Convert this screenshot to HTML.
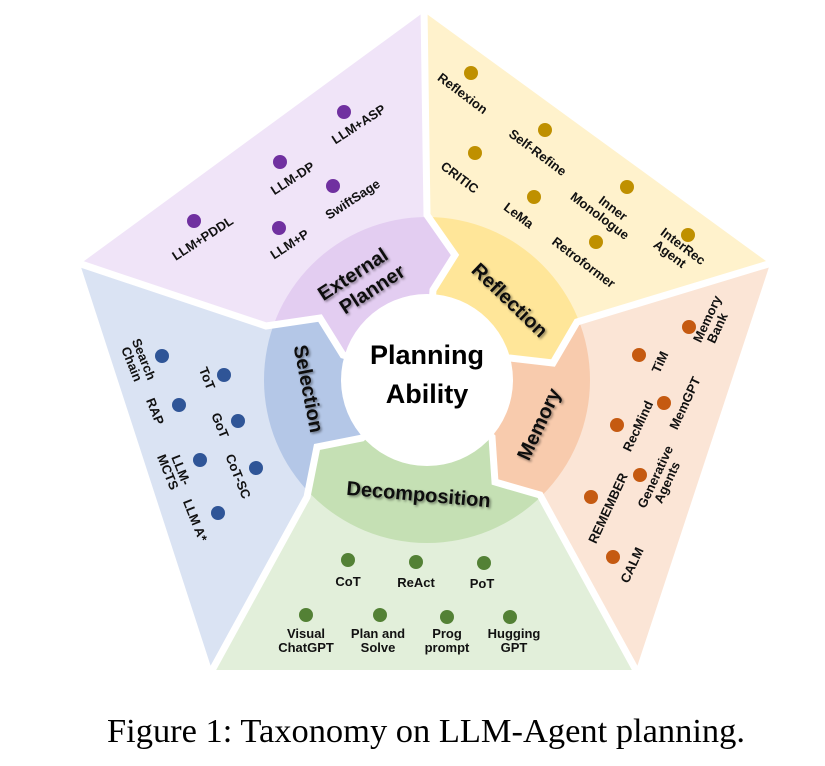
<!DOCTYPE html>
<html><head><meta charset="utf-8"><style>
html,body{margin:0;padding:0;background:#fff;}
svg text{font-family:"Liberation Sans",sans-serif;font-weight:bold;}
.s{font-size:13px;fill:#111;}
.r{font-size:20px;fill:#111;}
</style></head><body>
<svg width="825" height="761" viewBox="0 0 825 761" xmlns="http://www.w3.org/2000/svg">
<defs>
<clipPath id="ring"><circle cx="427" cy="380" r="163"/></clipPath>
<filter id="sh" x="-20%" y="-20%" width="140%" height="140%"><feDropShadow dx="1.5" dy="1.5" stdDeviation="1.2" flood-color="#000" flood-opacity="0.45"/></filter>
</defs>
<polygon fill="#f0e4f8" points="427,380 433,290 455,255 427,215 424,12 80,264 266,326 320,318 343,355"/>
<polygon fill="#fff2cc" points="427,380 433,290 455,255 427,215 424,12 770,264 577,322 553,363 510,358"/>
<polygon fill="#fbe5d6" points="427,380 510,358 553,363 577,322 770,264 636,670 540,495 495,482 492,437"/>
<polygon fill="#e2efda" points="427,380 492,437 495,482 540,495 636,670 212,670 307,497 317,447 362,438"/>
<polygon fill="#dae3f3" points="427,380 362,438 317,447 307,497 212,670 80,264 266,326 320,318 343,355"/>
<g clip-path="url(#ring)">
<polygon fill="#e3cdf1" points="427,380 433,290 455,255 427,215 424,12 80,264 266,326 320,318 343,355"/>
<polygon fill="#ffe699" points="427,380 433,290 455,255 427,215 424,12 770,264 577,322 553,363 510,358"/>
<polygon fill="#f8cbad" points="427,380 510,358 553,363 577,322 770,264 636,670 540,495 495,482 492,437"/>
<polygon fill="#c5e0b4" points="427,380 492,437 495,482 540,495 636,670 212,670 307,497 317,447 362,438"/>
<polygon fill="#b4c7e7" points="427,380 362,438 317,447 307,497 212,670 80,264 266,326 320,318 343,355"/>
</g>
<g fill="none" stroke="#fff" stroke-width="7" stroke-linejoin="miter">
<polyline points="427,380 433,290 455,255 427,215 424,8"/>
<polyline points="427,380 510,358 553,363 577,322 775,262"/>
<polyline points="427,380 492,437 495,482 540,495 638,674"/>
<polyline points="427,380 362,438 317,447 307,497 210,674"/>
<polyline points="427,380 343,355 320,318 266,326 75,262"/>
</g>
<circle cx="427" cy="380" r="86" fill="#fff"/>
<text x="427" y="364" text-anchor="middle" font-size="27" fill="#000">Planning</text>
<text x="427" y="403" text-anchor="middle" font-size="27" fill="#000">Ability</text>

<g filter="url(#sh)">
<text class="r" transform="translate(362,281) rotate(-33)" text-anchor="middle"><tspan x="-4" y="-4">External</tspan><tspan x="4" y="19">Planner</tspan></text>
<text class="r" transform="translate(505,305) rotate(44)" text-anchor="middle">Reflection</text>
<text class="r" transform="translate(545,427) rotate(-65)" text-anchor="middle">Memory</text>
<text class="r" transform="translate(302,390) rotate(79)" text-anchor="middle">Selection</text>
<text class="r" transform="translate(418,501) rotate(5)" text-anchor="middle">Decomposition</text>
</g>

<g fill="#7030a0">
<circle cx="344" cy="112" r="7"/><circle cx="280" cy="162" r="7"/><circle cx="333" cy="186" r="7"/><circle cx="279" cy="228" r="7"/><circle cx="194" cy="221" r="7"/>
</g>
<g text-anchor="middle">
<text class="s" transform="translate(361,128) rotate(-33)">LLM+ASP</text>
<text class="s" transform="translate(295,182) rotate(-33)">LLM-DP</text>
<text class="s" transform="translate(355,203) rotate(-33)">SwiftSage</text>
<text class="s" transform="translate(292,248) rotate(-33)">LLM+P</text>
<text class="s" transform="translate(205,242) rotate(-33)">LLM+PDDL</text>
</g>
<g fill="#bf9000">
<circle cx="471" cy="73" r="7"/><circle cx="545" cy="130" r="7"/><circle cx="475" cy="153" r="7"/><circle cx="534" cy="197" r="7"/><circle cx="627" cy="187" r="7"/><circle cx="596" cy="242" r="7"/><circle cx="688" cy="235" r="7"/>
</g>
<g text-anchor="middle">
<text class="s" transform="translate(460,97) rotate(37)">Reflexion</text>
<text class="s" transform="translate(535,156) rotate(37)">Self-Refine</text>
<text class="s" transform="translate(457,181) rotate(37)">CRITIC</text>
<text class="s" transform="translate(516,219) rotate(37)">LeMa</text>
<text class="s" transform="translate(602,213) rotate(37)"><tspan x="6" y="-6">Inner</tspan><tspan x="0" y="8">Monologue</tspan></text>
<text class="s" transform="translate(581,266) rotate(37)">Retroformer</text>
<text class="s" transform="translate(672,251) rotate(37)"><tspan x="6" y="-6">InterRec</tspan><tspan x="0" y="8">Agent</tspan></text>
</g>
<g fill="#c55a11">
<circle cx="689" cy="327" r="7"/><circle cx="639" cy="355" r="7"/><circle cx="664" cy="403" r="7"/><circle cx="617" cy="425" r="7"/><circle cx="640" cy="475" r="7"/><circle cx="591" cy="497" r="7"/><circle cx="613" cy="557" r="7"/>
</g>
<g text-anchor="middle">
<text class="s" transform="translate(714,322) rotate(-65)"><tspan x="0" y="-3">Memory</tspan><tspan x="-4" y="10">Bank</tspan></text>
<text class="s" transform="translate(664,364) rotate(-65)">TiM</text>
<text class="s" transform="translate(689,405) rotate(-65)">MemGPT</text>
<text class="s" transform="translate(642,428) rotate(-65)">RecMind</text>
<text class="s" transform="translate(662,480) rotate(-65)"><tspan x="0" y="-3">Generative</tspan><tspan x="0" y="10">Agents</tspan></text>
<text class="s" transform="translate(612,510) rotate(-65)">REMEMBER</text>
<text class="s" transform="translate(636,567) rotate(-65)">CALM</text>
</g>
<g fill="#2f5597">
<circle cx="162" cy="356" r="7"/><circle cx="224" cy="375" r="7"/><circle cx="179" cy="405" r="7"/><circle cx="238" cy="421" r="7"/><circle cx="200" cy="460" r="7"/><circle cx="256" cy="468" r="7"/><circle cx="218" cy="513" r="7"/>
</g>
<g text-anchor="middle">
<text class="s" transform="translate(137,362) rotate(68)"><tspan x="0" y="-3">Search</tspan><tspan x="0" y="10">Chain</tspan></text>
<text class="s" transform="translate(203,380) rotate(68)">ToT</text>
<text class="s" transform="translate(151,413) rotate(68)">RAP</text>
<text class="s" transform="translate(216,427) rotate(68)">GoT</text>
<text class="s" transform="translate(173,470) rotate(68)"><tspan x="3" y="-3">LLM-</tspan><tspan x="0" y="10">MCTS</tspan></text>
<text class="s" transform="translate(234,478) rotate(68)">CoT-SC</text>
<text class="s" transform="translate(191,522) rotate(68)">LLM A*</text>
</g>
<g fill="#538135">
<circle cx="348" cy="560" r="7"/><circle cx="416" cy="562" r="7"/><circle cx="484" cy="563" r="7"/>
<circle cx="306" cy="615" r="7"/><circle cx="380" cy="615" r="7"/><circle cx="447" cy="617" r="7"/><circle cx="510" cy="617" r="7"/>
</g>
<g text-anchor="middle">
<text class="s" x="348" y="586">CoT</text>
<text class="s" x="416" y="587">ReAct</text>
<text class="s" x="482" y="588">PoT</text>
<text class="s" x="306" y="638">Visual</text><text class="s" x="306" y="652">ChatGPT</text>
<text class="s" x="378" y="638">Plan and</text><text class="s" x="378" y="652">Solve</text>
<text class="s" x="447" y="638">Prog</text><text class="s" x="447" y="652">prompt</text>
<text class="s" x="514" y="638">Hugging</text><text class="s" x="514" y="652">GPT</text>
</g>
<text x="107" y="742" textLength="638" lengthAdjust="spacingAndGlyphs" style="font-family:'Liberation Serif',serif;font-weight:normal;font-size:34px;fill:#000;">Figure 1: Taxonomy on LLM-Agent planning.</text>
</svg>
</body></html>
